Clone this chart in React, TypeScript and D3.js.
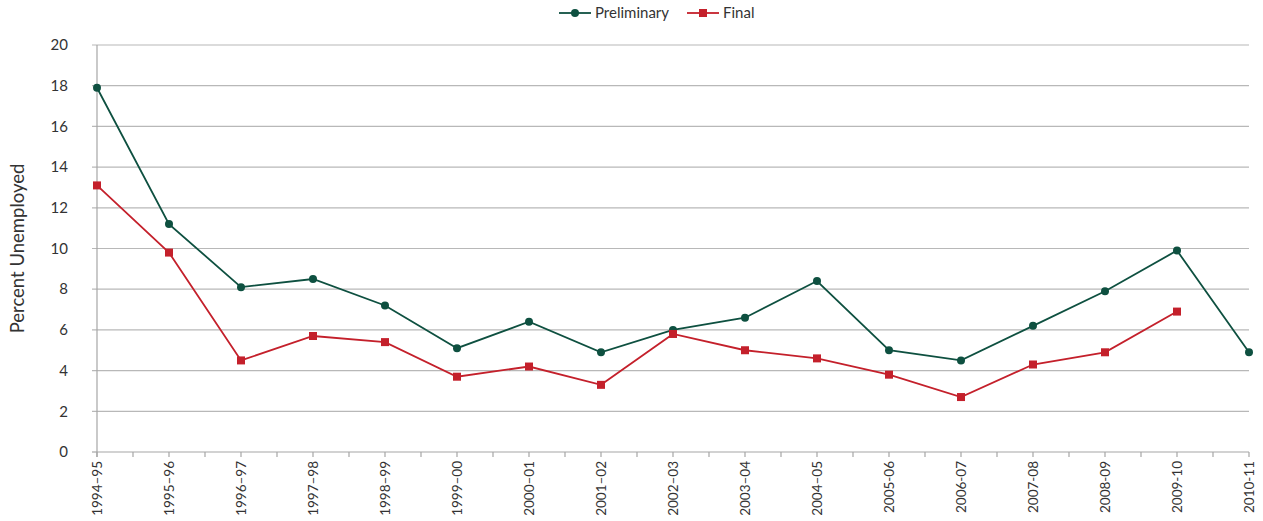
import { useEffect, useRef } from "react";
import * as d3 from "d3";

// school years on the x axis
const years = [
  "1994–95", "1995–96", "1996–97", "1997–98", "1998–99", "1999–00", "2000–01", "2001–02",
  "2002–03", "2003–04", "2004–05", "2005-06", "2006-07", "2007-08", "2008-09", "2009-10", "2010-11",
];
const preliminary = [17.9, 11.2, 8.1, 8.5, 7.2, 5.1, 6.4, 4.9, 6.0, 6.6, 8.4, 5.0, 4.5, 6.2, 7.9, 9.9, 4.9];
const finalRate = [13.1, 9.8, 4.5, 5.7, 5.4, 3.7, 4.2, 3.3, 5.8, 5.0, 4.6, 3.8, 2.7, 4.3, 4.9, 6.9, null];
const yTicks = [0, 2, 4, 6, 8, 10, 12, 14, 16, 18, 20];

const GREEN = "#0e5040";
const RED = "#c4202b";
const FONT = "Lato, 'Open Sans', sans-serif";

export default function App() {
  const ref = useRef<SVGSVGElement>(null);

  useEffect(() => {
    const svg = d3.select(ref.current);
    svg.selectAll("*").remove();

    const left = 97, right = 1249, top = 45, bottom = 452;

    const x = d3.scalePoint<string>().domain(years).range([left, right]);
    const y = d3.scaleLinear().domain([0, 20]).range([bottom, top]);
    const step = x.step();

    // horizontal gridlines
    svg.append("g").selectAll("line").data(yTicks.filter((t) => t > 0)).join("line")
      .attr("x1", left - 5).attr("x2", right).attr("y1", (d) => y(d)).attr("y2", (d) => y(d))
      .attr("stroke", "#b8b8b8").attr("stroke-width", 1.2);

    // y axis line + labels
    svg.append("line").attr("x1", left).attr("x2", left).attr("y1", top).attr("y2", bottom + 5)
      .attr("stroke", "#a6a6a6").attr("stroke-width", 1.2);
    svg.append("line").attr("x1", left - 5).attr("x2", left).attr("y1", bottom).attr("y2", bottom)
      .attr("stroke", "#a6a6a6").attr("stroke-width", 1.2);
    svg.append("g").selectAll("text").data(yTicks).join("text")
      .attr("x", 68).attr("y", (d) => y(d)).attr("dy", "0.35em").attr("text-anchor", "end")
      .attr("font-family", FONT).attr("font-size", 15).attr("fill", "#333").text((d) => d);

    // x axis line, ticks at categories and in between
    svg.append("line").attr("x1", left).attr("x2", right).attr("y1", bottom).attr("y2", bottom)
      .attr("stroke", "#a6a6a6").attr("stroke-width", 1.2);
    const tickXs: number[] = [];
    years.forEach((yr, i) => {
      tickXs.push(x(yr)!);
      if (i < years.length - 1) tickXs.push(x(yr)! + step / 2);
    });
    svg.append("g").selectAll("line").data(tickXs).join("line")
      .attr("x1", (d) => d).attr("x2", (d) => d).attr("y1", bottom).attr("y2", bottom + 5)
      .attr("stroke", "#a6a6a6").attr("stroke-width", 1.2);
    svg.append("g").selectAll("text").data(years).join("text")
      .attr("transform", (d) => `translate(${x(d)! + 5},${bottom + 9}) rotate(-90)`)
      .attr("text-anchor", "end").attr("font-family", FONT).attr("font-size", 13.5).attr("fill", "#333")
      .text((d) => d);

    // y axis title
    svg.append("text").attr("transform", `translate(24,${(top + bottom) / 2}) rotate(-90)`)
      .attr("text-anchor", "middle").attr("font-family", FONT).attr("font-size", 18.5).attr("fill", "#333")
      .text("Percent Unemployed");

    // lines
    const line = d3.line<number | null>()
      .defined((d) => d != null)
      .x((_, i) => x(years[i])!)
      .y((d) => y(d as number));

    svg.append("path").datum(preliminary).attr("d", line as any).attr("fill", "none")
      .attr("stroke", GREEN).attr("stroke-width", 1.8);
    svg.append("path").datum(finalRate).attr("d", line as any).attr("fill", "none")
      .attr("stroke", RED).attr("stroke-width", 1.8);

    svg.append("g").selectAll("circle").data(preliminary).join("circle")
      .attr("cx", (_, i) => x(years[i])!).attr("cy", (d) => y(d)).attr("r", 4).attr("fill", GREEN);
    svg.append("g").selectAll("rect").data(finalRate.map((v, i) => ({ v, i })).filter((d) => d.v != null)).join("rect")
      .attr("x", (d) => x(years[d.i])! - 4).attr("y", (d) => y(d.v as number) - 4)
      .attr("width", 8).attr("height", 8).attr("fill", RED);

    // legend
    const lg = svg.append("g").attr("font-family", FONT).attr("font-size", 15).attr("fill", "#333");
    lg.append("line").attr("x1", 559).attr("x2", 591).attr("y1", 13).attr("y2", 13).attr("stroke", GREEN).attr("stroke-width", 1.8);
    lg.append("circle").attr("cx", 575).attr("cy", 13).attr("r", 4).attr("fill", GREEN);
    lg.append("text").attr("x", 595).attr("y", 13).attr("dy", "0.35em").text("Preliminary");
    lg.append("line").attr("x1", 687).attr("x2", 719).attr("y1", 13).attr("y2", 13).attr("stroke", RED).attr("stroke-width", 1.8);
    lg.append("rect").attr("x", 699).attr("y", 9).attr("width", 8).attr("height", 8).attr("fill", RED);
    lg.append("text").attr("x", 723).attr("y", 13).attr("dy", "0.35em").text("Final");
  }, []);

  return (
    <div style={{ position: "absolute", left: 0, top: 0 }}>
      <svg ref={ref} width={1263} height={521} style={{ display: "block", background: "#fff" }} />
    </div>
  );
}
